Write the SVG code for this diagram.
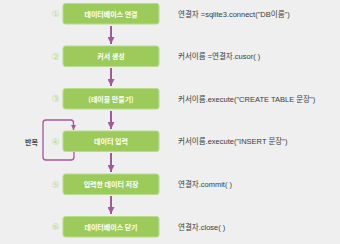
<svg xmlns="http://www.w3.org/2000/svg" width="340" height="244" viewBox="0 0 340 244">
<style>
.box{fill:#9ccb5c;stroke:#b9dc8e;stroke-width:1}
.bt{font-family:"Noto Sans CJK KR","Noto Sans",sans-serif;font-size:7px;font-weight:bold;fill:#ffffff;text-anchor:middle}
.num{font-family:"DejaVu Sans","Noto Sans CJK KR",sans-serif;font-size:9px;fill:#b7d98f;text-anchor:middle}
.code{font-family:"Liberation Sans","Noto Sans CJK KR",sans-serif;font-size:7.5px;fill:#3a3a3a}
.ln{stroke:#a5579d;stroke-width:2;fill:none}
</style>
<defs>
<marker id="ah" viewBox="0 0 10 10" refX="10" refY="5" markerWidth="3.5" markerHeight="3.5" orient="auto" markerUnits="strokeWidth">
<path d="M0,0 L10,5 L0,10 Z" fill="#a5579d"/>
</marker>
<marker id="ah2" viewBox="0 0 10 10" refX="10" refY="5" markerWidth="4" markerHeight="4" orient="auto" markerUnits="strokeWidth">
<path d="M0,0 L10,5 L0,10 Z" fill="#a5579d"/>
</marker>
</defs>
<rect width="340" height="244" fill="#efefef"/>
<g id="connectors">
<line class="ln" x1="111" y1="26" x2="111" y2="44" marker-end="url(#ah)"/>
<line class="ln" x1="111" y1="68" x2="111" y2="86" marker-end="url(#ah)"/>
<line class="ln" x1="111" y1="111" x2="111" y2="129" marker-end="url(#ah)"/>
<line class="ln" x1="111" y1="153" x2="111" y2="172" marker-end="url(#ah)"/>
<line class="ln" x1="111" y1="196" x2="111" y2="214" marker-end="url(#ah)"/>
<path d="M74,152 L74,157 Q74,160 71,160 L46,160 Q43,160 43,157 L43,123 Q43,120 46,120 L71,120 Q73.5,120 73.5,123 L73.5,130" stroke="#a5579d" stroke-width="1.3" fill="none" marker-end="url(#ah2)"/>
<text x="31.5" y="144.5" style="font-family:'Noto Sans CJK KR',sans-serif;font-size:7px;font-weight:bold;fill:#444;text-anchor:middle">반복</text>
</g>
<g id="n1"><rect class="box" x="63" y="3.5" width="96" height="20.5" rx="2.5"/><text class="bt" x="111" y="16.5">데이터베이스 연결</text><text class="num" x="55.5" y="17">①</text><text class="code" x="178" y="16.5">연결자 =sqlite3.connect("DB이름")</text></g>
<g id="n2"><rect class="box" x="63" y="46" width="96" height="20.5" rx="2.5"/><text class="bt" x="111" y="59">커서 생성</text><text class="num" x="55.5" y="59.5">②</text><text class="code" x="178" y="59">커서이름 =연결자.cusor( )</text></g>
<g id="n3"><rect class="box" x="63" y="88.5" width="96" height="20.5" rx="2.5"/><text class="bt" x="111" y="101.5">(테이블 만들기)</text><text class="num" x="55.5" y="102">③</text><text class="code" x="178" y="101.5">커서이름.execute("CREATE TABLE 문장")</text></g>
<g id="n4"><rect class="box" x="63" y="131" width="96" height="20.5" rx="2.5"/><text class="bt" x="111" y="144">데이터 입력</text><text class="num" x="55.5" y="144.5">④</text><text class="code" x="178" y="144">커서이름.execute("INSERT 문장")</text></g>
<g id="n5"><rect class="box" x="63" y="174" width="96" height="20.5" rx="2.5"/><text class="bt" x="111" y="187">입력한 데이터 저장</text><text class="num" x="55.5" y="187.5">⑤</text><text class="code" x="178" y="187">연결자.commit( )</text></g>
<g id="n6"><rect class="box" x="63" y="216.5" width="96" height="20.5" rx="2.5"/><text class="bt" x="111" y="229.5">데이터베이스 닫기</text><text class="num" x="55.5" y="230">⑥</text><text class="code" x="178" y="229.5">연결자.close( )</text></g>
</svg>
